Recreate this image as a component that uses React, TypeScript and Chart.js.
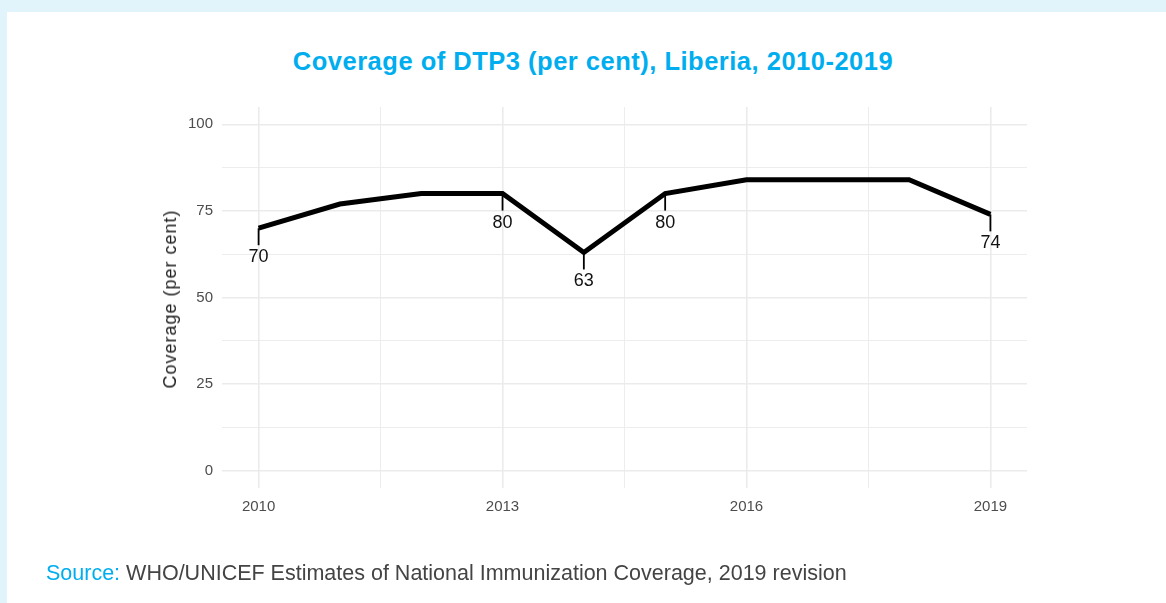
import React, { useEffect, useRef } from 'react';
import { Chart, registerables } from 'chart.js';

Chart.register(...registerables);

const years = [2010, 2011, 2012, 2013, 2014, 2015, 2016, 2017, 2018, 2019];
const coverage = [70, 77, 80, 80, 63, 80, 84, 84, 84, 74];
const labeledYears = [2010, 2013, 2014, 2015, 2019];
const xGridTicks = [2010, 2011.5, 2013, 2014.5, 2016, 2017.5, 2019];
const xTickLabels = [2010, 2013, 2016, 2019];
const yGridTicks = [0, 12.5, 25, 37.5, 50, 62.5, 75, 87.5, 100];
const yTickLabels = [0, 25, 50, 75, 100];

const FONT = '"Liberation Sans", Arial, Helvetica, sans-serif';

const labelPlugin = {
  id: 'valueLabels',
  afterDatasetsDraw(chart: any) {
    const meta = chart.getDatasetMeta(0);
    const ctx = chart.ctx;
    ctx.save();
    years.forEach((yr, i) => {
      if (!labeledYears.includes(yr)) return;
      const el = meta.data[i];
      if (!el) return;
      const x = el.x;
      const y = el.y;
      ctx.strokeStyle = '#000';
      ctx.lineWidth = 1.8;
      ctx.beginPath();
      ctx.moveTo(x, y);
      ctx.lineTo(x, y + 17);
      ctx.stroke();
      ctx.fillStyle = '#111';
      ctx.font = `18px ${FONT}`;
      ctx.textAlign = 'center';
      ctx.textBaseline = 'middle';
      ctx.fillText(String(coverage[i]), x, y + 29);
    });
    ctx.restore();
  },
};

export default function App() {
  const ref = useRef<HTMLCanvasElement | null>(null);

  useEffect(() => {
    document.body.style.margin = '0';
    if (!ref.current) return;
    const chart = new Chart(ref.current, {
      type: 'line',
      data: {
        datasets: [
          {
            data: years.map((y, i) => ({ x: y, y: coverage[i] })),
            borderColor: '#000',
            borderWidth: 5,
            pointRadius: 0,
            tension: 0,
            borderJoinStyle: 'miter',
            borderCapStyle: 'butt',
          } as any,
        ],
      },
      options: {
        animation: false,
        responsive: false,
        devicePixelRatio: window.devicePixelRatio || 1,
        layout: { padding: { left: 0, top: 107, right: 139, bottom: 0 } },
        plugins: {
          legend: { display: false },
          tooltip: { enabled: false },
          title: { display: false },
        },
        scales: {
          x: {
            type: 'linear',
            min: 2009.55,
            max: 2019.45,
            afterBuildTicks: (scale: any) => {
              scale.ticks = xGridTicks.map((v) => ({ value: v }));
            },
            afterFit: (scale: any) => {
              scale.height = 115;
            },
            border: { display: false },
            grid: {
              color: '#ebebeb',
              drawTicks: false,
              lineWidth: (c: any) =>
                c.tick && xTickLabels.includes(c.tick.value) ? 1.6 : 0.9,
            },
            ticks: {
              autoSkip: false,
              maxRotation: 0,
              padding: 10,
              color: '#4d4d4d',
              font: { family: FONT, size: 15 },
              callback: (v: any) => (xTickLabels.includes(Number(v)) ? String(v) : ''),
            },
          },
          y: {
            type: 'linear',
            min: -5,
            max: 105,
            afterBuildTicks: (scale: any) => {
              scale.ticks = yGridTicks.map((v) => ({ value: v }));
            },
            afterFit: (scale: any) => {
              scale.width = 222;
            },
            border: { display: false },
            grid: {
              color: '#ebebeb',
              drawTicks: false,
              lineWidth: (c: any) =>
                c.tick && yTickLabels.includes(c.tick.value) ? 1.6 : 0.9,
            },
            ticks: {
              autoSkip: false,
              padding: 9,
              color: '#4d4d4d',
              font: { family: FONT, size: 15 },
              callback: (v: any) => (yTickLabels.includes(Number(v)) ? String(v) : ''),
            },
          },
        },
      },
      plugins: [labelPlugin],
    });
    return () => chart.destroy();
  }, []);

  return (
    <div
      style={{
        position: 'relative',
        width: 1166,
        height: 603,
        background: '#e2f4fb',
        overflow: 'hidden',
        fontFamily: FONT,
      }}
    >
      <div
        style={{
          position: 'absolute',
          left: 7,
          top: 12,
          right: 0,
          bottom: 0,
          background: '#ffffff',
        }}
      />
      <div
        style={{
          position: 'absolute',
          left: 0,
          width: 1186,
          top: 46,
          lineHeight: '30px',
          textAlign: 'center',
          fontSize: 25.5,
          letterSpacing: '0.5px',
          fontWeight: 'bold',
          color: '#00aeef',
          whiteSpace: 'nowrap',
        }}
      >
        Coverage of DTP3 (per cent), Liberia, 2010-2019
      </div>
      <canvas
        ref={ref}
        width={1166}
        height={603}
        style={{ position: 'absolute', left: 0, top: 0, width: 1166, height: 603 }}
      />
      <div
        style={{
          position: 'absolute',
          left: 170,
          top: 299,
          transform: 'translate(-50%, -50%) rotate(-90deg)',
          whiteSpace: 'nowrap',
          fontSize: 18,
          fontWeight: 'normal',
          letterSpacing: '1px',
          lineHeight: '20px',
          color: '#222',
        }}
      >
        Coverage (per cent)
      </div>
      <div
        style={{
          position: 'absolute',
          left: 46,
          top: 560,
          lineHeight: '26px',
          fontSize: 21.5,
          color: '#444',
          whiteSpace: 'nowrap',
        }}
      >
        <span style={{ color: '#00aeef' }}>Source:</span> WHO/UNICEF Estimates of National
        Immunization Coverage, 2019 revision
      </div>
    </div>
  );
}
